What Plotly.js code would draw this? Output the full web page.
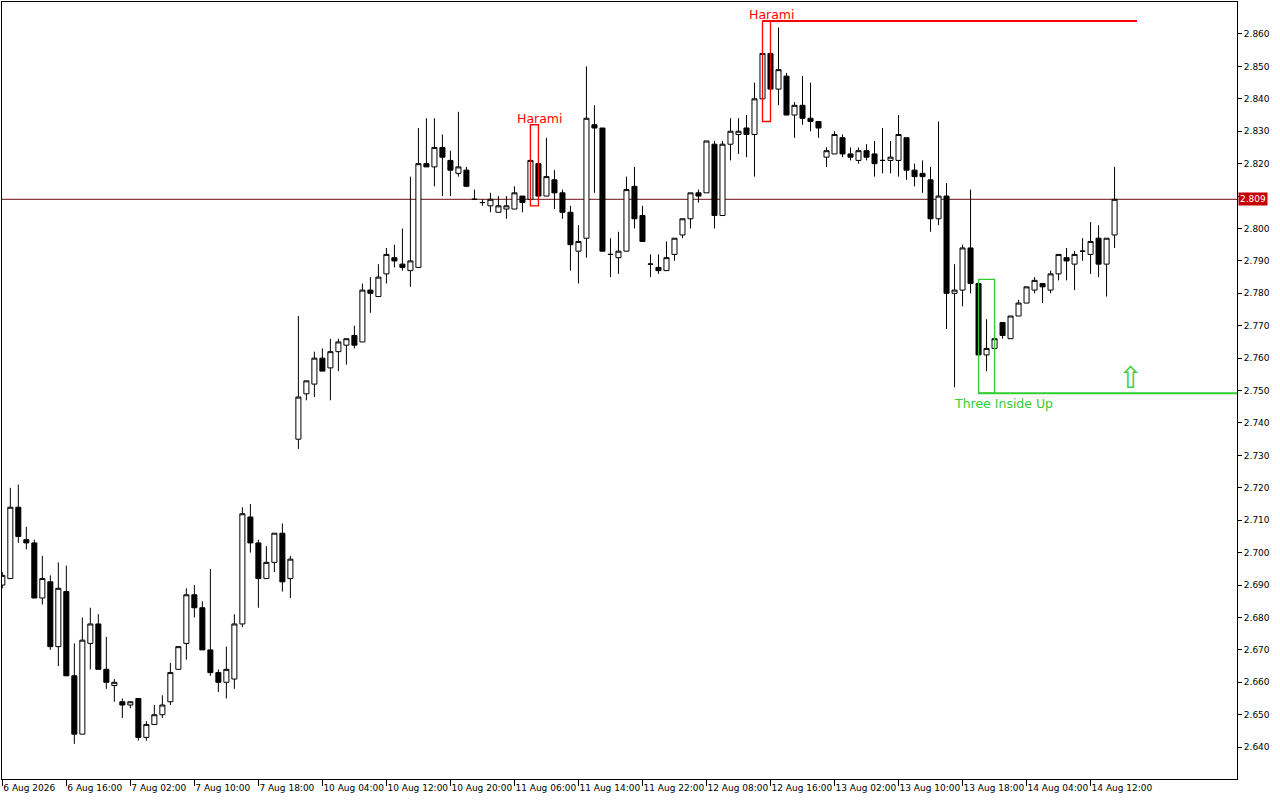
<!DOCTYPE html>
<html>
<head>
<meta charset="utf-8">
<script src="https://cdn.plot.ly/plotly-3.0.1.min.js"></script>
<style>
html,body{margin:0;padding:0;background:#fff;}
#chart{width:1280px;height:800px;}
</style>
</head>
<body>
<div id="chart"></div>
<script>
// ---- Data (hourly bars) ----
const openP = [
2.690,2.692,2.714,2.704,2.703,2.686,2.691,2.671,2.688,2.662,
2.644,2.672,2.678,2.664,2.659,2.654,2.653,2.655,2.643,2.647,
2.650,2.654,2.664,2.672,2.687,2.683,2.670,2.663,2.660,2.661,
2.678,2.711,2.703,2.692,2.697,2.706,2.692,2.735,2.749,2.752,
2.760,2.757,2.762,2.764,2.767,2.765,2.781,2.779,2.786,2.791,
2.789,2.787,2.788,2.820,2.819,2.825,2.821,2.817,2.818,2.809,
2.808,2.807,2.805,2.806,2.806,2.810,2.809,2.820,2.810,2.815,
2.811,2.805,2.793,2.797,2.832,2.831,2.792,2.791,2.793,2.813,
2.804,2.789,2.788,2.787,2.792,2.798,2.803,2.811,2.811,2.826,
2.804,2.826,2.829,2.831,2.829,2.840,2.854,2.843,2.847,2.835,
2.838,2.834,2.833,2.822,2.823,2.828,2.823,2.821,2.824,2.823,
2.821,2.821,2.821,2.828,2.818,2.817,2.815,2.803,2.810,2.780,
2.781,2.794,2.783,2.761,2.763,2.771,2.766,2.773,2.777,2.781,
2.783,2.781,2.786,2.791,2.789,2.793,2.792,2.797,2.789,2.798];
const highP = [
2.694,2.720,2.721,2.708,2.704,2.699,2.693,2.697,2.696,2.672,
2.680,2.683,2.681,2.674,2.661,2.655,2.654,2.655,2.648,2.653,
2.656,2.666,2.671,2.689,2.690,2.685,2.695,2.664,2.671,2.681,
2.714,2.715,2.704,2.702,2.706,2.709,2.699,2.773,2.753,2.762,
2.763,2.766,2.766,2.766,2.770,2.783,2.785,2.789,2.794,2.795,
2.800,2.816,2.831,2.834,2.834,2.829,2.824,2.836,2.819,2.812,
2.809,2.811,2.810,2.810,2.813,2.810,2.832,2.827,2.828,2.818,
2.812,2.807,2.801,2.850,2.838,2.831,2.797,2.799,2.816,2.819,
2.807,2.792,2.792,2.796,2.797,2.803,2.811,2.812,2.827,2.827,
2.827,2.834,2.834,2.835,2.845,2.864,2.861,2.862,2.848,2.839,
2.847,2.845,2.833,2.825,2.830,2.829,2.825,2.825,2.826,2.827,
2.831,2.827,2.835,2.828,2.820,2.821,2.819,2.833,2.814,2.789,
2.795,2.812,2.784,2.772,2.770,2.771,2.773,2.778,2.782,2.785,
2.783,2.787,2.792,2.794,2.793,2.797,2.802,2.801,2.797,2.819];
const lowP = [
2.689,2.692,2.703,2.701,2.686,2.684,2.670,2.665,2.662,2.641,
2.644,2.664,2.664,2.658,2.654,2.649,2.652,2.642,2.642,2.647,
2.649,2.653,2.664,2.667,2.680,2.670,2.662,2.657,2.655,2.658,
2.677,2.700,2.683,2.692,2.694,2.688,2.686,2.732,2.747,2.748,
2.756,2.747,2.756,2.758,2.763,2.765,2.774,2.779,2.783,2.788,
2.787,2.782,2.788,2.819,2.813,2.810,2.810,2.816,2.813,2.809,
2.807,2.805,2.805,2.803,2.806,2.805,2.807,2.810,2.810,2.806,
2.803,2.787,2.783,2.791,2.811,2.793,2.785,2.786,2.793,2.800,
2.796,2.785,2.786,2.787,2.790,2.797,2.800,2.808,2.811,2.800,
2.804,2.821,2.823,2.822,2.816,2.833,2.838,2.838,2.835,2.828,
2.832,2.830,2.828,2.819,2.823,2.822,2.821,2.820,2.821,2.816,
2.817,2.817,2.816,2.815,2.813,2.811,2.799,2.801,2.769,2.751,
2.776,2.780,2.749,2.756,2.761,2.766,2.766,2.773,2.777,2.780,
2.777,2.780,2.784,2.784,2.781,2.790,2.786,2.785,2.779,2.794];
const closeP = [
2.693,2.714,2.705,2.703,2.686,2.692,2.671,2.689,2.662,2.644,
2.673,2.678,2.664,2.660,2.660,2.653,2.654,2.643,2.647,2.650,
2.653,2.663,2.671,2.687,2.683,2.670,2.663,2.660,2.664,2.678,
2.712,2.703,2.692,2.697,2.706,2.691,2.698,2.748,2.753,2.760,
2.756,2.762,2.765,2.766,2.764,2.781,2.780,2.785,2.792,2.790,
2.788,2.790,2.820,2.819,2.825,2.822,2.818,2.819,2.813,2.809,
2.808,2.809,2.807,2.807,2.811,2.808,2.821,2.810,2.816,2.811,
2.805,2.795,2.796,2.834,2.831,2.793,2.792,2.793,2.812,2.803,
2.796,2.789,2.787,2.791,2.797,2.803,2.811,2.810,2.827,2.804,
2.826,2.830,2.830,2.829,2.840,2.854,2.843,2.849,2.835,2.838,
2.834,2.833,2.831,2.824,2.829,2.823,2.822,2.824,2.822,2.820,
2.821,2.822,2.829,2.818,2.816,2.816,2.803,2.810,2.780,2.781,
2.794,2.783,2.761,2.763,2.766,2.767,2.773,2.777,2.782,2.784,
2.782,2.786,2.792,2.790,2.792,2.793,2.796,2.789,2.797,2.809];

// x-axis tick labels (every 8 bars)
const tickBars = [0,8,16,24,32,40,48,56,64,72,80,88,96,104,112,120,128,136];
const tickLabels = ['6 Aug 2026','6 Aug 16:00','7 Aug 02:00','7 Aug 10:00','7 Aug 18:00',
  '10 Aug 04:00','10 Aug 12:00','10 Aug 20:00','11 Aug 06:00','11 Aug 14:00','11 Aug 22:00',
  '12 Aug 08:00','12 Aug 16:00','13 Aug 02:00','13 Aug 10:00','13 Aug 18:00','14 Aug 04:00','14 Aug 12:00'];

// price ticks
const priceTicks = [2.640,2.650,2.660,2.670,2.680,2.690,2.700,2.710,2.720,2.730,2.740,2.750,2.760,2.770,2.780,2.790,2.800,2.810,2.820,2.830,2.840,2.850,2.860];
const lastPrice = 2.809;

// detected patterns
const patternNames = ['Harami','Harami','Three Inside Up'];
const patternStart = [66, 95, 122];
const patternEnd   = [67, 96, 124];
const patternHigh  = [2.832, 2.864, 2.7843];
const patternLow   = [2.807, 2.833, 2.7492];
const patternBull  = [false, false, true];
// extended levels
const levelPrice = [2.864, 2.7492];
const levelFrom  = [95, 122];
const levelTo    = [141.8, 155];
const signalBar = [141];
const signalPrice = [2.7538];

const bars = openP.map((_, i) => i);
const RED = '#ff0000', GREEN = '#32cd32';

const traces = [{
  type: 'candlestick',
  x: bars, open: openP, high: highP, low: lowP, close: closeP,
  increasing: {line: {color: '#000', width: 1}, fillcolor: '#ffffff'},
  decreasing: {line: {color: '#000', width: 1}, fillcolor: '#000000'},
  whiskerwidth: 0,
  hoverinfo: 'none',
  showlegend: false
}];

const shapes = [];
const annotations = [];
// bid line
shapes.push({type: 'line', xref: 'paper', x0: 0, x1: 1, yref: 'y', y0: lastPrice, y1: lastPrice,
  line: {color: '#6a1010', width: 1}, layer: 'below'});

patternNames.forEach((name, k) => {
  const col = patternBull[k] ? GREEN : RED;
  shapes.push({type: 'rect', xref: 'x', yref: 'y',
    x0: patternStart[k], x1: patternEnd[k], y0: patternLow[k], y1: patternHigh[k],
    line: {color: col, width: 1.3}, fillcolor: 'rgba(0,0,0,0)'});
  if (patternBull[k]) {
    annotations.push({x: (patternStart[k] + patternEnd[k]) / 2, y: patternLow[k], xref: 'x', yref: 'y',
      text: name, showarrow: false, xanchor: 'center', yanchor: 'top', xshift: 17, yshift: -1,
      font: {family: 'DejaVu Sans', size: 12.5, color: col}});
  } else {
    annotations.push({x: (patternStart[k] + patternEnd[k]) / 2, y: patternHigh[k], xref: 'x', yref: 'y',
      text: name, showarrow: false, xanchor: 'center', yanchor: 'bottom', xshift: 6, yshift: -3,
      font: {family: 'DejaVu Sans', size: 12.5, color: col}});
  }
});
levelPrice.forEach((p, k) => {
  shapes.push({type: 'line', xref: 'x', yref: 'y', x0: levelFrom[k], x1: levelTo[k], y0: p, y1: p,
    line: {color: k === 0 ? RED : GREEN, width: 2}});
});
signalBar.forEach((b, k) => {
  annotations.push({x: b, y: signalPrice[k], xref: 'x', yref: 'y', text: '\u21E7', showarrow: false,
    xanchor: 'center', yanchor: 'middle', yshift: 1,
    font: {family: 'DejaVu Sans', size: 30, color: '#44cc44'}});
});
// last price tag
annotations.push({xref: 'paper', x: 1, xanchor: 'left', xshift: 1, yref: 'y', y: lastPrice, yanchor: 'middle',
  text: lastPrice.toFixed(3), showarrow: false, bgcolor: '#c40000', borderpad: 1,
  font: {family: 'DejaVu Sans', size: 9, color: '#ffffff'}});

const layout = {
  width: 1280, height: 800,
  margin: {l: 2, r: 43, t: 2, b: 21, pad: 0},
  paper_bgcolor: '#ffffff', plot_bgcolor: '#ffffff',
  showlegend: false,
  dragmode: false,
  xaxis: {
    type: 'linear', range: [-0.04, 154.3], fixedrange: true,
    tickmode: 'array', tickvals: tickBars, ticktext: tickLabels,
    tickangle: 0,
    ticks: 'outside', ticklen: 6, tickcolor: '#000', tickwidth: 1,
    ticklabelposition: 'outside right',
    tickfont: {family: 'DejaVu Sans', size: 9, color: '#000'},
    showgrid: false, zeroline: false,
    showline: true, mirror: true, linecolor: '#000', linewidth: 1,
    rangeslider: {visible: false}
  },
  yaxis: {
    side: 'right', range: [2.63017, 2.86987], fixedrange: true,
    tickmode: 'array', tickvals: priceTicks,
    ticktext: priceTicks.map(v => Math.abs(v - lastPrice) < 0.002 ? '' : v.toFixed(3)),
    ticks: 'outside', ticklen: 4, tickcolor: '#000', tickwidth: 1,
    tickfont: {family: 'DejaVu Sans', size: 9, color: '#000'},
    showgrid: false, zeroline: false,
    showline: true, mirror: true, linecolor: '#000', linewidth: 1
  },
  boxgap: 0.1, boxgroupgap: 0.3,
  shapes: shapes,
  annotations: annotations
};

Plotly.newPlot('chart', traces, layout, {staticPlot: true, displayModeBar: false});
</script>
</body>
</html>
